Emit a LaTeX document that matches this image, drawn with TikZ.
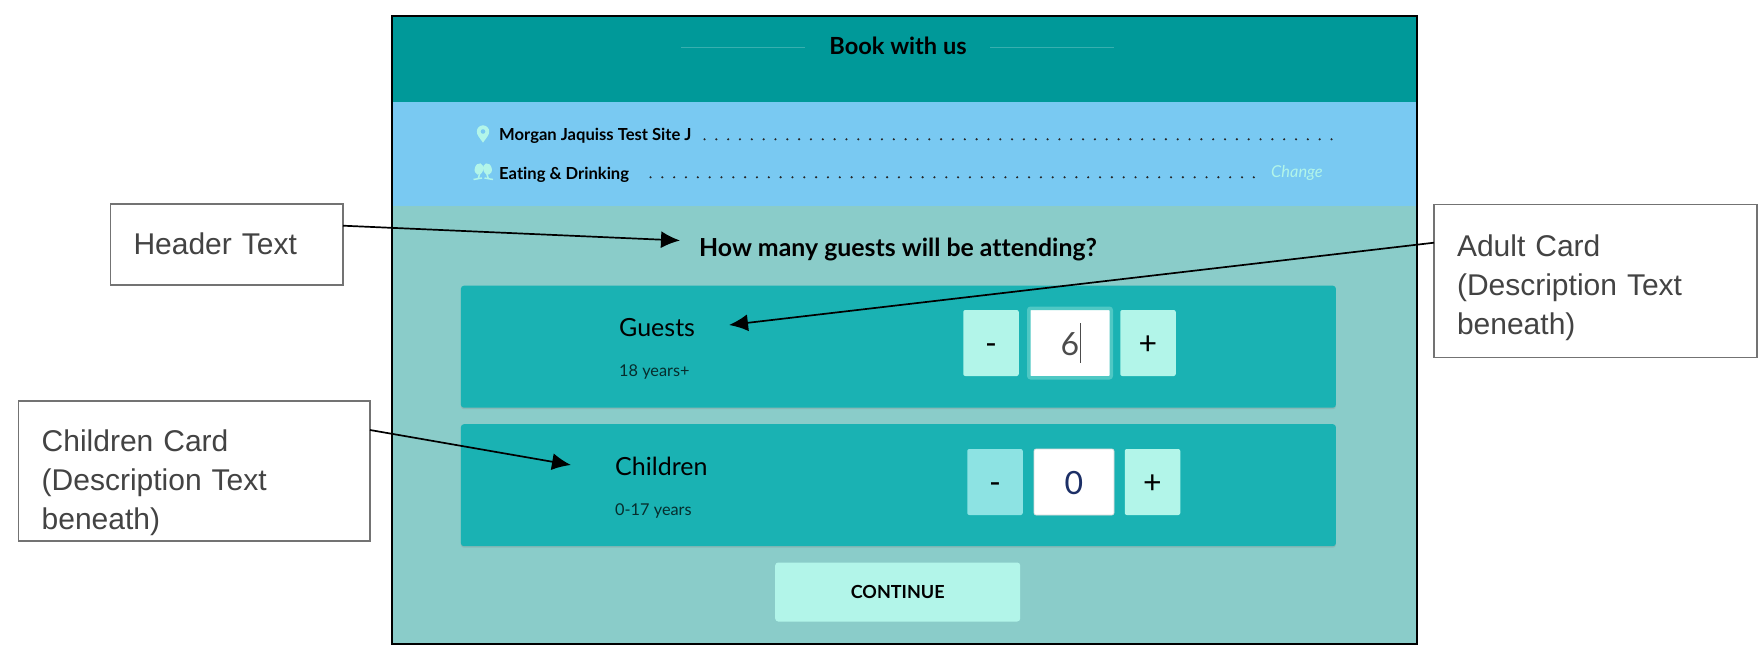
\documentclass[tikz,border=0pt]{standalone}
\usepackage{fontspec}
\setmainfont{Lato}[Ligatures=NoCommon]
\newfontfamily\notefont{Liberation Sans}
\usetikzlibrary{arrows.meta, positioning, shapes.geometric, shadows}
\definecolor{headteal}{HTML}{009999}
\definecolor{bandblue}{HTML}{79C9F2}
\definecolor{pagegreen}{HTML}{8ACCC9}
\definecolor{cardteal}{HTML}{1AB2B3}
\definecolor{btnmint}{HTML}{B2F5E9}
\definecolor{btnpale}{HTML}{8DE3E3}
\definecolor{notegrey}{HTML}{434343}
\definecolor{digitnavy}{HTML}{1C2F66}
\definecolor{ringteal}{HTML}{4FC8C4}
\begin{document}
\begin{tikzpicture}[
    x=1pt, y=-1pt,
    callout/.style={rectangle, draw=black!55, fill=white, line width=1.2pt, text=notegrey, font=\notefont\fontsize{30}{38.7}\selectfont, align=left, anchor=north west, inner xsep=23pt, inner ysep=0pt, outer sep=0pt},
    card/.style={rectangle, fill=cardteal, rounded corners=3pt, minimum width=875pt, minimum height=122pt, anchor=north west, inner sep=0pt, drop shadow={shadow xshift=0pt, shadow yshift=-1.5pt, opacity=.25}},
    stepbtn/.style={rectangle, fill=btnmint, rounded corners=2pt, minimum width=55.5pt, minimum height=66pt, font=\fontsize{32}{34}\selectfont, text height=22pt, text depth=0pt, inner sep=0pt},
    valuebox/.style={rectangle, fill=white, rounded corners=2pt, minimum width=80pt, minimum height=66pt, font=\fontsize{32}{34}\selectfont, text height=25pt, text depth=0pt, inner sep=0pt},
    cardtitle/.style={anchor=base west, font=\fontsize{25}{30}\selectfont, inner sep=0pt},
    cardsub/.style={anchor=base west, font=\fontsize{16.3}{20}\selectfont, text=black!75!cardteal, inner sep=0pt},
    siteline/.style={anchor=base west, font=\bfseries\fontsize{16.6}{20}\selectfont, inner sep=0pt},
    dotrow/.style={line width=2.4pt, line cap=round, dash pattern=on 0pt off 11.83pt, black!85},
    arrow/.style={-{Latex[length=19pt,width=17pt]}, line width=1.7pt}
]
\useasboundingbox (0,0) rectangle (1762,650);

% panels
\fill[pagegreen] (392,16) rectangle (1417,644);
\fill[headteal] (392,16) rectangle (1417,102);
\fill[bandblue] (392,102) rectangle (1417,206);

\node[anchor=base, font=\bfseries\fontsize{23.6}{28}\selectfont, inner sep=0pt] (title) at (898,54.5) {Book with us};
\coordinate (ruleLa) at (681,47.7); \coordinate (ruleLb) at (805,47.7);
\coordinate (ruleRa) at (990,47.7); \coordinate (ruleRb) at (1114,47.7);
\draw[headteal!78!white, line width=1.5pt] (ruleLa) -- (ruleLb);
\draw[headteal!78!white, line width=1.5pt] (ruleRa) -- (ruleRb);

% info band
\fill[btnmint] (483,142.7) .. controls (480,138) and (476.8,135.5) .. (476.8,131.5) arc (180:0:6.2pt) .. controls (489.2,135.5) and (486,138) .. (483,142.7) -- cycle;
\fill[bandblue] (483,131.5) circle (2.3pt);
\fill[btnmint, rotate around={-15:(479,169)}] (479,169) ellipse (4.3pt and 5.8pt);
\fill[btnmint, rotate around={15:(487.5,169)}] (487.5,169) ellipse (4.3pt and 5.8pt);
\draw[btnmint, line width=1.5pt] (480,173) -- (478,179) (473.5,179.5) -- (482,178);
\draw[btnmint, line width=1.5pt] (486.5,173) -- (488.5,179) (493,179.5) -- (484.5,178);
\node[siteline] (site) at (499,141) {Morgan Jaquiss Test Site J};
\node[siteline] (kind) at (499,179) {Eating \& Drinking};
\coordinate (dotsAa) at (704.5,139.3); \coordinate (dotsAb) at (1337,139.3);
\coordinate (dotsBa) at (650.5,177.3); \coordinate (dotsBb) at (1257,177.3);
\draw[dotrow] (dotsAa) -- (dotsAb);
\draw[dotrow] (dotsBa) -- (dotsBb);
\node[anchor=base west, font=\itshape\fontsize{16.4}{18}\selectfont, text=btnmint, inner sep=0pt] (change) at (1271,178) {Change};

\node[anchor=base, font=\bfseries\fontsize{24.85}{28}\selectfont, inner sep=0pt] (question) at (898,256) {How many guests will be attending?};

% cards
\node[card] (adult) at (460.7,285.5) {};
\node[card] (child) at (460.7,424) {};
\node[cardtitle] (guests) at (619,336) {Guests};
\node[cardsub] (adultsub) at (619,376.5) {18 years+};
\node[cardtitle] (children) at (615,475) {Children};
\node[cardsub] (childsub) at (615,515.5) {0-17 years};

\node[valuebox, draw=ringteal, line width=3.5pt, minimum width=82.5pt, minimum height=69.5pt] (six) at (1070,343) {\textcolor{black!70}{6}\rlap{\kern1pt\textcolor{black!70}{\rule[-7pt]{1pt}{40pt}}}};
\node[stepbtn] (minusA) at (991,343) {-};
\node[stepbtn] (plusA) at (1148,343) {+};
\node[valuebox, draw=black!15, line width=.6pt] (zero) at (1074,482) {\textcolor{digitnavy}{0}};
\node[stepbtn, fill=btnpale] (minusB) at (995,482) {-};
\node[stepbtn] (plusB) at (1152.5,482) {+};

\node[rectangle, fill=btnmint, rounded corners=3pt, minimum width=245pt, minimum height=59pt, font=\bfseries\fontsize{18}{20}\selectfont, inner sep=0pt] (continue) at (897.7,592) {CONTINUE};

% notes
\node[callout, text width=186.5pt, text height=50pt, text depth=31pt] (headnote) at (110.5,204) {Header Text};
\node[callout, text width=277pt, text height=52pt, text depth=101pt] (adultnote) at (1434,204.7) {Adult Card\\(Description Text\\beneath)};
\node[callout, text width=305.3pt, text height=50.7pt, text depth=89.3pt] (childnote) at (18.7,401) {Children Card\\(Description Text\\beneath)};

\coordinate (headtip) at (680,240.5);
\coordinate (adulttip) at (729,325);
\coordinate (childtip) at (571,465);
\draw[arrow] (headnote.east |- 0,225.7) -- (headtip);
\draw[arrow] (adultnote.west |- 0,242.7) -- (adulttip);
\draw[arrow] (childnote.east |- 0,430) -- (childtip);

% frame
\draw[black, line width=2pt] (392,16) rectangle (1417,644);
\end{tikzpicture}
\end{document}
